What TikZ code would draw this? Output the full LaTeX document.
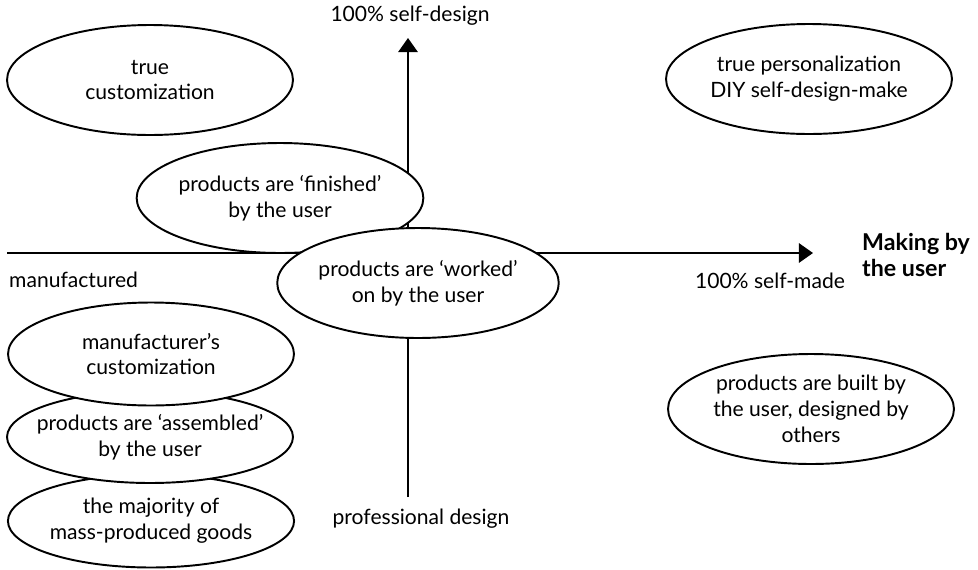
\documentclass[tikz,border=0pt]{standalone}
\usepackage{fontspec}
\setmainfont{Lato}
\usetikzlibrary{
    arrows.meta,      % 箭头
    shapes.geometric  % 椭圆
}

\begin{document}
\begin{tikzpicture}[
    x=0.02cm, y=-0.02cm,
    >={Triangle[width=11pt,length=8pt]},
    font=\fontsize{12}{14.7}\selectfont,
    quad/.style={ellipse, draw, line width=1.1pt, fill=white, align=center,
        inner sep=0pt, minimum width=5.72cm, minimum height=2.2cm},
    axis/.style={line width=1.1pt}
]
    \useasboundingbox (0,0) rectangle (978,569);

    % 坐标轴
    \coordinate (vtop) at (408,38);
    \coordinate (vbot) at (408,497);
    \coordinate (hleft) at (7,253);
    \coordinate (hright) at (813,253);
    \draw[axis, ->] (vbot) -- (vtop);
    \draw[axis, ->] (hleft) -- (hright);

    % 轴标签
    \node (selfdesign) at (410,16) {100\% self-design};
    \node[anchor=west] (manuf) at (3,280) {manufactured};
    \node (selfmade) at (770,281) {100\% self-made};
    \node (profdesign) at (421,519) {professional design};
    \node[anchor=west, align=left, font=\fontsize{13.2}{14.5}\selectfont\bfseries]
        (making) at (856,255) {Making by\\the user};

    % 上方椭圆
    \node[quad] (truecust) at (150,80) {true\\customization};
    \node[quad] (truepers) at (809,79) {true personalization\\DIY self-design-make};
    \node[quad] (finished) at (280,198) {products are `finished'\\by the user};
    \node[quad, minimum width=5.6cm] (worked) at (418,283) {products are `worked'\\on by the user};

    % 下方椭圆
    \node[quad] (built) at (811,409) {products are built by\\the user, designed by\\others};
    \node[quad, minimum height=1.86cm] (majority) at (151,521) {the majority of\\mass-produced goods};
    \node[quad, minimum height=1.84cm, inner xsep=-9pt] (assembled) at (150,437) {products are `assembled'\\by the user};
    \node[quad, minimum height=2.06cm] (mcust) at (151,354) {manufacturer's\\customization};
\end{tikzpicture}
\end{document}
